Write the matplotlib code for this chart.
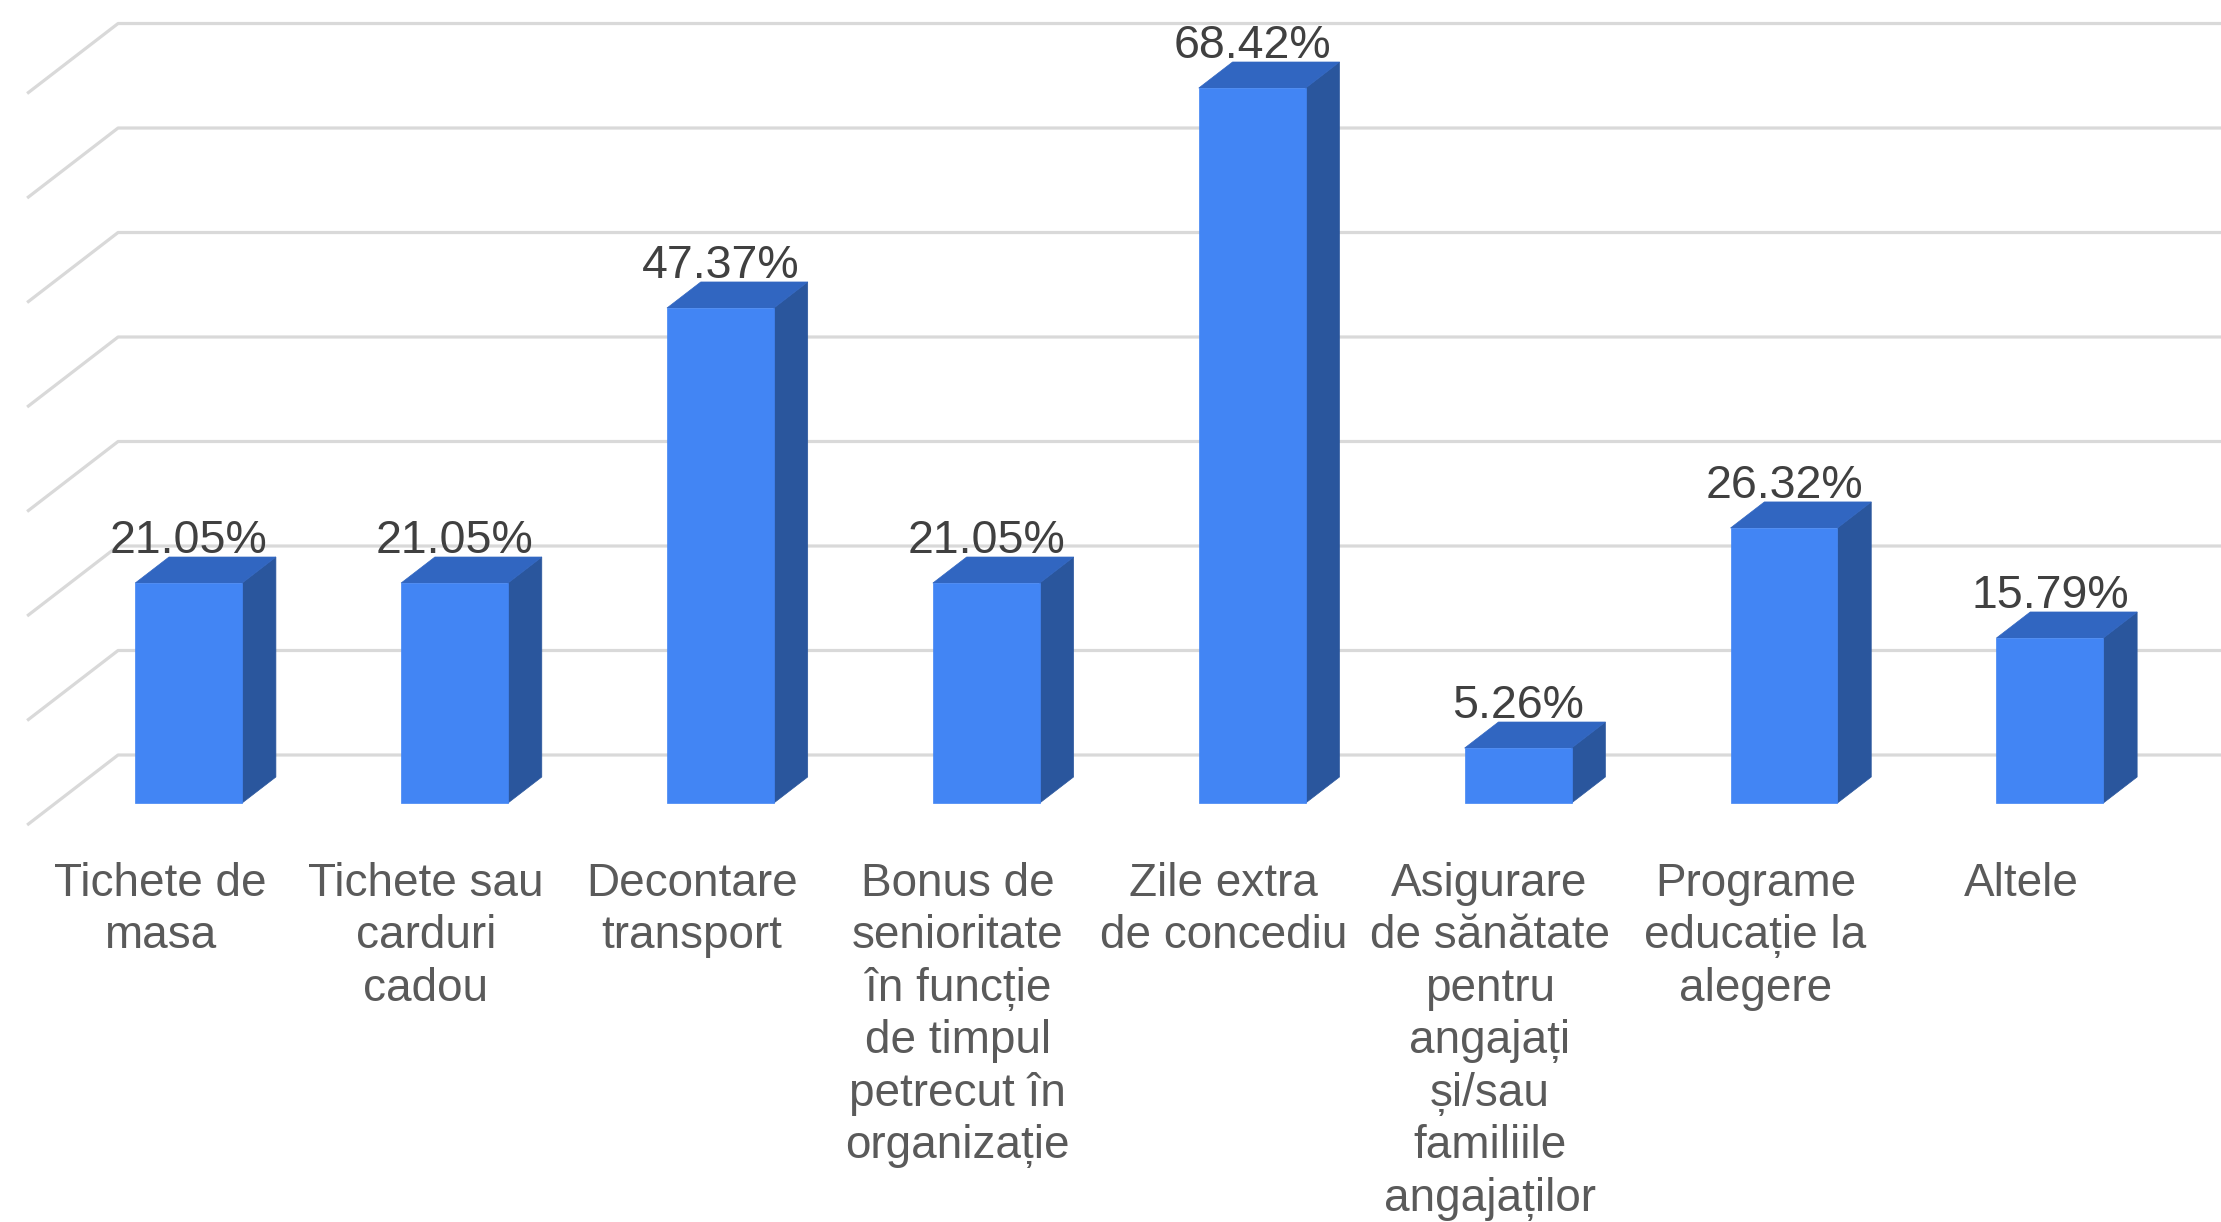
import matplotlib
matplotlib.use("Agg")
import matplotlib.pyplot as plt
from matplotlib.patches import Polygon

# ---- data ----
categories = [
    "Tichete de\nmasa",
    "Tichete sau\ncarduri\ncadou",
    "Decontare\ntransport",
    "Bonus de\nsenioritate\n\u00een func\u021bie\nde timpul\npetrecut \u00een\norganiza\u021bie",
    "Zile extra\nde concediu",
    "Asigurare\nde s\u0103n\u0103tate\npentru\nangaja\u021bi\n\u0219i/sau\nfamiliile\nangaja\u021bilor",
    "Programe\neduca\u021bie la\nalegere",
    "Altele",
]
values = [21.05, 21.05, 47.37, 21.05, 68.42, 5.26, 26.32, 15.79]
value_labels = ["21.05%", "21.05%", "47.37%", "21.05%", "68.42%", "5.26%", "26.32%", "15.79%"]
grid_values = [0, 10, 20, 30, 40, 50, 60, 70]

# ---- style ----
FRONT = "#4285f4"
TOP = "#3166c1"
SIDE = "#2a569d"
GRID = "#d9d9d9"
VAL_COLOR = "#404040"
CAT_COLOR = "#5a5a5a"
FONT = "Liberation Sans"

# oblique projection of depth (full floor depth) in data units
DX = 0.342
DY = 6.7
D0, D1 = 0.314, 0.686   # bar front / back depth fraction
HW = 0.201              # half bar width

fig = plt.figure(figsize=(22.21, 12.22), dpi=100)
ax = fig.add_axes([0, 0, 1, 1])
ax.set_xlim(-0.602, 7.751)
ax.set_ylim(-37.99, 78.95)
ax.axis("off")

# back wall grid lines with left diagonal
xl = -0.5
for g in grid_values:
    ax.plot([xl, xl + DX, 9], [g, g + DY, g + DY], color=GRID, lw=2.3,
            solid_capstyle="butt", zorder=1)

for i, (v, lab) in enumerate(zip(values, value_labels)):
    cx = i + D0 * DX
    y0 = D0 * DY
    ddx = (D1 - D0) * DX
    ddy = (D1 - D0) * DY
    xa, xb = cx - HW, cx + HW
    front = [(xa, y0), (xb, y0), (xb, y0 + v), (xa, y0 + v)]
    top = [(xa, y0 + v), (xb, y0 + v), (xb + ddx, y0 + v + ddy), (xa + ddx, y0 + v + ddy)]
    side = [(xb, y0), (xb + ddx, y0 + ddy), (xb + ddx, y0 + v + ddy), (xb, y0 + v)]
    ax.add_patch(Polygon(side, closed=True, fc=SIDE, ec=SIDE, lw=0.5, zorder=3))
    ax.add_patch(Polygon(top, closed=True, fc=TOP, ec=TOP, lw=0.5, zorder=3))
    ax.add_patch(Polygon(front, closed=True, fc=FRONT, ec=FRONT, lw=0.5, zorder=4))
    ax.text(cx, v + D1 * DY + 0.4, lab, ha="center", va="baseline",
            fontsize=33.5, color=VAL_COLOR, family=FONT, zorder=5)

for i, c in enumerate(categories):
    ax.text(i, -3.5, c, ha="center", va="top", fontsize=33, color=CAT_COLOR,
            family=FONT, linespacing=1.25, zorder=5)

fig.savefig("out.png", dpi=100, facecolor="white")
